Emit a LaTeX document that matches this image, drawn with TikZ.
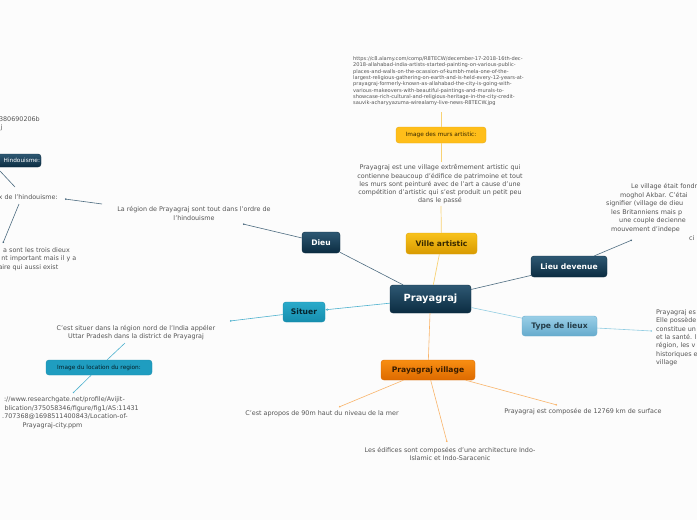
\documentclass[tikz,border=0pt]{standalone}
\usepackage{fontspec}
\setmainfont{DejaVu Sans}
\usetikzlibrary{arrows.meta}
\definecolor{bgc}{HTML}{FCFCFC}
\definecolor{txt}{HTML}{555555}
\definecolor{navyT}{HTML}{2E5873}
\definecolor{navyB}{HTML}{0B2C41}
\definecolor{goldT}{HTML}{F8C21C}
\definecolor{goldB}{HTML}{D89A00}
\definecolor{goldF}{HTML}{FFBE1A}
\definecolor{tealT}{HTML}{2AAACA}
\definecolor{tealB}{HTML}{168EAE}
\definecolor{tealF}{HTML}{1F9DC0}
\definecolor{lblT}{HTML}{9ACFE7}
\definecolor{lblB}{HTML}{66ABCD}
\definecolor{oraT}{HTML}{F88E12}
\definecolor{oraB}{HTML}{DD6A00}
\definecolor{lnDark}{HTML}{4D6C80}
\definecolor{lnTeal}{HTML}{4DB2CE}
\definecolor{lnLight}{HTML}{92CDE2}
\definecolor{lnOra}{HTML}{F9B46A}
\definecolor{lnGold}{HTML}{F8D274}
\tikzset{
  box/.style={rounded corners=3pt, inner sep=0pt, align=center},
  navybox/.style={box, top color=navyT, bottom color=navyB, draw=navyB, text=white},
  goldbox/.style={box, top color=goldT, bottom color=goldB, draw=goldB!80!goldT, text=black!75!goldB},
  goldflat/.style={box, fill=goldF, draw=goldF!90!black, text=black!75!goldB, font=\fontsize{5.8}{6}\selectfont},
  tealbox/.style={box, top color=tealT, bottom color=tealB, draw=tealB, text=black!75!tealB},
  tealflat/.style={box, fill=tealF, draw=tealF!90!black, text=black!80!tealF, font=\fontsize{5.8}{6}\selectfont},
  lblbox/.style={box, top color=lblT, bottom color=lblB, draw=lblB, text=black!65!lblB},
  orabox/.style={box, top color=oraT, bottom color=oraB, draw=oraB, text=black!75!oraB},
  lbl/.style={font=\bfseries\fontsize{7.6}{8}\selectfont},
  note/.style={text=txt, inner sep=0pt, align=center, font=\fontsize{6.4}{8.3}\selectfont},
  tiny/.style={text=txt, inner sep=0pt, align=left, font=\fontsize{5.1}{6.3}\selectfont},
  dot/.style={-{Circle[length=1.6pt]}},
  cdark/.style={draw=lnDark, line width=0.6pt},
  cteal/.style={draw=lnTeal, line width=0.6pt},
  clight/.style={draw=lnLight, line width=0.6pt},
  cora/.style={draw=lnOra, line width=0.6pt},
  cgold/.style={draw=lnGold, line width=0.7pt},
}
\begin{document}
\begin{tikzpicture}[x=1pt,y=-1pt]
\useasboundingbox (0,0) rectangle (697,520);
\clip (0,0) rectangle (697,520);
\fill[bgc] (0,0) rectangle (697,520);

% ---------- main boxes
\node[navybox, minimum width=81pt, minimum height=28pt, font=\bfseries\fontsize{9.9}{10}\selectfont] (pr) at (430.5,299) {Prayagraj};
\node[goldbox, lbl, minimum width=71pt, minimum height=21pt] (va) at (441.5,243.5) {Ville artistic};
\node[goldflat, minimum width=90pt, minimum height=16pt] (im) at (441,135) {Image des murs artistic:};
\node[navybox, lbl, minimum width=38pt, minimum height=21pt] (dieu) at (321,242.5) {Dieu};
\node[navybox, minimum width=60pt, minimum height=13pt, font=\fontsize{5.8}{6}\selectfont, text width=58pt, align=right] (hin) at (11,160.5) {Hindouisme:};
\node[tealbox, lbl, minimum width=42pt, minimum height=20pt] (si) at (304,312) {Situer};
\node[navybox, lbl, minimum width=76pt, minimum height=21pt] (ld) at (569,266.5) {Lieu devenue};
\node[lblbox, lbl, minimum width=75pt, minimum height=20pt] (tl) at (559.5,326) {Type de lieux};
\node[orabox, lbl, minimum width=94pt, minimum height=20pt] (pv) at (428,370) {Prayagraj village};

% ---------- texts
\node[tiny, anchor=north west] (url) at (353,56.5) {https://c8.alamy.com/comp/R8TECW/december-17-2018-16th-dec-\\2018-allahabad-india-artists-started-painting-on-various-public-\\places-and-walls-on-the-ocassion-of-kumbh-mela-one-of-the-\\largest-religious-gathering-on-earth-and-is-held-every-12-years-at-\\prayagraj-formerly-known-as-allahabad-the-city-is-going-with-\\various-makeovers-with-beautiful-paintings-and-murals-to-\\showcase-rich-cultural-and-religious-heritage-in-the-city-credit-\\sauvik-acharyyazuma-wirealamy-live-news-R8TECW.jpg};
\node[note] (para) at (440,184.5) {Prayagraj est une village extrêmement artistic qui\\contienne beaucoup d'édifice de patrimoine et tout\\les murs sont peinturé avec de l'art a cause d'une\\compétition d'artistic qui s'est produit un petit peu\\dans le passé};
\node[note] (dtx) at (194,213.5) {La région de Prayagraj sont tout dans l'ordre de\\l'hindouisme};
\node[note, anchor=west] (hx) at (-1.5,197) {x de l'hindouisme:};
\node[note, anchor=east] (tl1) at (40,119.5) {9380690206b};
\node[note, anchor=east] (tl2) at (2.5,128) {j};
\node[note, anchor=east] (ll1) at (70,250.5) {a sont les trois dieux};
\node[note, anchor=east] (ll2) at (76.5,259) {nt important mais il y a};
\node[note, anchor=east] (ll3) at (58.5,267.5) {aire qui aussi exist};
\node[note] (stx) at (136,332.5) {C'est situer dans la région nord de l'India appéler\\Uttar Pradesh dans la district de Prayagraj};
\node[tealflat, minimum width=106pt, minimum height=15pt] (il) at (99,367.5) {Image du location du region:};
\node[note, anchor=east] (u1) at (125,400) {://www.researchgate.net/profile/Avijit-};
\node[note, anchor=east] (u2) at (139,408.5) {blication/375058346/figure/fig1/AS:11431};
\node[note, anchor=east] (u3) at (128,417) {.707368@1698511400843/Location-of-};
\node[note] (u4) at (52.5,425.5) {Prayagraj-city.ppm};
\node[note, anchor=west] (r1) at (631,187) {Le village était fondr};
\node[note, anchor=west] (r2) at (620,195.5) {moghol Akbar. C'étai};
\node[note, anchor=west] (r3) at (606,204) {signifier (village de dieu};
\node[note, anchor=west] (r4) at (611,212.5) {les Britanniens mais p};
\node[note, anchor=west] (r5) at (619,221) {une couple decienne};
\node[note, anchor=west] (r6) at (611,229.5) {mouvement d'indepe};
\node[note, anchor=west] (r7) at (689,238) {ci};
\node[note, anchor=north west, align=left] (rb) at (656,309.5) {Prayagraj es\\Elle possède\\constitue un\\et la santé. l\\région, les v\\historiques e\\village};
\node[note] (v1) at (322,414) {C'est apropos de 90m haut du niveau de la mer};
\node[note] (v2) at (450,454) {Les édifices sont composées d'une architecture Indo-\\Islamic et Indo-Saracenic};
\node[note] (v3) at (583,412) {Prayagraj est composée de 12769 km de surface};

% ---------- free ends
\coordinate (e1) at (243,224);
\coordinate (e2s) at (102,204);
\coordinate (e2) at (65,199);
\coordinate (e3s) at (15,187);
\coordinate (e3) at (0,171);
\coordinate (e4s) at (19,204);
\coordinate (e4) at (3,243);
\coordinate (e5) at (230,321);
\coordinate (e6s) at (125,343);
\coordinate (e6) at (73,393);
\coordinate (e7) at (632,240);
\coordinate (e8) at (652,331);
\coordinate (e9) at (339,407);
\coordinate (e10) at (447,442);
\coordinate (e11) at (557,405);
\coordinate (urlb) at (441,112);
\coordinate (parat) at (441,162);
\coordinate (parab) at (441,206);

% ---------- connectors
\draw[cgold] (pr) -- (va);
\draw[cgold] (va) -- (parab);
\draw[cgold] (parat) -- (im);
\draw[cgold] (im) -- (urlb);
\draw[cdark] (pr) -- (dieu);
\draw[cdark, dot] (dieu) -- (e1);
\draw[cdark, dot] (e2s) -- (e2);
\draw[cdark] (e3s) -- (e3);
\draw[cdark, dot] (e4s) -- (e4);
\draw[cteal, -{Latex[length=2.5pt,width=2.5pt]}] (pr) -- (si);
\draw[cteal, dot] (si) -- (e5);
\draw[cteal] (e6s) -- (il);
\draw[cteal, dot] (il) -- (e6);
\draw[cdark] (pr) -- (ld);
\draw[cdark, dot] (ld) -- (e7);
\draw[clight] (pr) -- (tl);
\draw[clight, dot] (tl) -- (e8);
\draw[cora] (pr) -- (pv);
\draw[cora, dot] (pv) -- (e9);
\draw[cora, dot] (pv) -- (e10);
\draw[cora, dot] (pv) -- (e11);
\end{tikzpicture}
\end{document}
